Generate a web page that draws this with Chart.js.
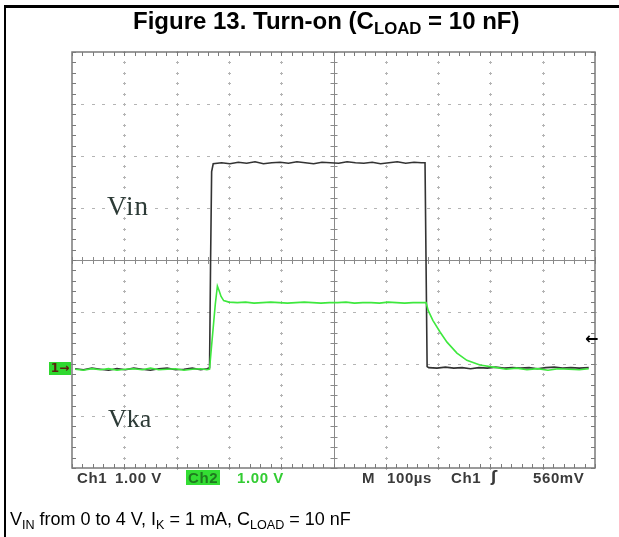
<!DOCTYPE html>
<html><head><meta charset="utf-8">
<script src="https://cdn.jsdelivr.net/npm/chart.js@4/dist/chart.umd.min.js"></script>
<style>
html,body{margin:0;padding:0;background:#fff;}
#wrap{position:relative;width:619px;height:537px;overflow:hidden;font-family:"Liberation Sans",Arial,sans-serif;}
#c{position:absolute;left:0;top:0;}
.t{position:absolute;white-space:nowrap;line-height:1;}
.sub{font-size:0.7em;position:relative;top:0.3em;}
#frameTop{position:absolute;left:4px;top:5px;width:615px;height:3px;background:#000;}
#frameLeft{position:absolute;left:4px;top:5px;width:2px;height:532px;background:#000;}
#title{font-weight:bold;font-size:24px;top:9px;left:133px;color:#000;}
#caption{font-size:18px;top:510px;left:10px;color:#000;}
.lbl{font-family:"Liberation Serif","Times New Roman",serif;color:#2d3b37;}
.st{font-weight:bold;font-size:15px;top:470px;color:#3a3a3a;letter-spacing:0.6px;}
.gr{color:#33cc33;}
#ch2box{background:#33dd33;color:#1f7a1f;padding:0 2px;}
#gnd{background:#2fd82f;color:#5a2010;font-weight:bold;font-size:12px;width:22px;height:13px;line-height:13px;text-align:center;font-family:"DejaVu Sans",sans-serif;}
#trig{font-size:16px;font-weight:bold;color:#000;font-family:"DejaVu Sans",sans-serif;}
</style></head><body>
<div id="wrap">
<canvas id="c" width="619" height="537"></canvas>
<div id="frameTop"></div><div id="frameLeft"></div>
<div class="t" id="title">Figure 13. Turn-on (C<span class="sub">LOAD</span> = 10 nF)</div>
<div class="t lbl" style="left:107px;top:193px;font-size:27px;letter-spacing:1px;">Vin</div>
<div class="t lbl" style="left:108px;top:406px;font-size:26px;">Vka</div>
<div class="t st" style="left:77px;">Ch1</div>
<div class="t st" style="left:115px;">1.00 V</div>
<div class="t st" id="ch2box" style="left:186px;">Ch2</div>
<div class="t st gr" style="left:237px;">1.00 V</div>
<div class="t st" style="left:362px;">M</div>
<div class="t st" style="left:387px;">100µs</div>
<div class="t st" style="left:451px;">Ch1</div>
<div class="t st" style="left:491px;font-family:'DejaVu Sans',sans-serif;">ʃ</div>
<div class="t st" style="left:533px;">560mV</div>
<div class="t" id="gnd" style="left:49px;top:362px;">1→</div>
<div class="t" id="trig" style="left:585px;top:331px;">←</div>
<div class="t" id="caption">V<span class="sub">IN</span> from 0 to 4 V, I<span class="sub">K</span> = 1 mA, C<span class="sub">LOAD</span> = 10 nF</div>
</div>
<script>
// ---- data (time in µs, voltage in V) ----
const timeMin = 0, timeMax = 1000, timeDiv = 100;   // 100 µs/div, 10 divisions
const voltMin = -1.9, voltMax = 6.1, voltDiv = 1;   // 1.00 V/div, 8 divisions
const triggerLevel = 0.56;

const vinTime = [6,22,38,54,70,86,102,118,134,150,166,182,198,214,230,246,258,263,265,267,270,
  286,302,318,334,350,366,382,398,414,430,446,462,478,494,510,526,542,558,574,590,606,622,638,654,668,
  675,677,679,682,698,714,730,746,762,778,794,810,826,842,858,874,890,906,922,938,954,970,988];
const vinVolt = [0.01,-0.01,0.02,0.0,-0.02,0.01,-0.01,0.02,0.0,-0.02,0.01,0.02,-0.01,0.0,0.02,-0.01,0.01,
  0.03,2.1,3.8,3.95,
  3.97,3.95,3.98,3.96,3.99,3.95,3.97,3.98,3.96,3.99,3.97,3.95,3.98,3.97,3.96,3.99,3.97,3.96,3.98,3.95,3.97,3.99,3.96,3.98,3.97,
  3.97,2.0,0.05,
  0.03,0.02,0.04,0.02,0.03,0.01,0.03,0.02,0.04,0.02,0.03,0.02,0.03,0.01,0.03,0.04,0.02,0.03,0.02,0.03];

const vkaTime = [6,22,38,54,70,86,102,118,134,150,166,182,198,214,230,246,258,
  263,266,270,274,278,281,285,290,300,
  316,332,348,364,380,396,412,428,444,460,476,492,508,524,540,556,572,588,604,620,636,652,668,
  677,681,690,704,717,736,755,780,812,
  830,850,870,890,910,930,950,970,988];
const vkaVolt = [0.0,-0.02,0.01,-0.01,0.01,-0.02,0.0,0.01,-0.01,0.02,-0.01,0.0,0.01,-0.02,0.0,0.01,-0.01,
  0.0,0.35,0.8,1.25,1.6,1.52,1.4,1.32,1.29,
  1.28,1.29,1.27,1.28,1.29,1.28,1.27,1.28,1.29,1.28,1.27,1.28,1.28,1.29,1.27,1.28,1.28,1.27,1.29,1.28,1.27,1.28,1.28,
  1.28,1.13,0.94,0.71,0.52,0.31,0.17,0.08,0.03,
  0.0,0.02,-0.01,0.01,-0.02,0.01,0.0,-0.01,0.01];

const toPts = (ts, vs) => ts.map((t, i) => ({x: t, y: vs[i]}));

const scopeGrid = {
  id: 'scopeGrid',
  beforeDatasetsDraw(chart) {
    const {ctx, chartArea: a, scales: {x, y}} = chart;
    const xMinor = timeDiv / 5, yMinor = voltDiv / 5;
    const xMaj = [], yMaj = [], xMin = [], yMin = [];
    for (let v = x.min; v <= x.max + 1e-6; v += timeDiv) xMaj.push(x.getPixelForValue(v));
    for (let v = y.min; v <= y.max + 1e-6; v += voltDiv) yMaj.push(y.getPixelForValue(v));
    for (let v = x.min; v <= x.max + 1e-6; v += xMinor) xMin.push(x.getPixelForValue(v));
    for (let v = y.min; v <= y.max + 1e-6; v += yMinor) yMin.push(y.getPixelForValue(v));
    const cx = x.getPixelForValue((x.min + x.max) / 2), cy = y.getPixelForValue((y.min + y.max) / 2);
    ctx.save();
    ctx.fillStyle = '#b4b4b4';
    xMaj.slice(1, -1).forEach(px => {
      if (Math.abs(px - cx) < 1) return;
      yMin.forEach(py => { ctx.fillRect(Math.round(px) - 1, Math.round(py), 3, 1); ctx.fillRect(Math.round(px), Math.round(py) - 1, 1, 3); });
    });
    yMaj.slice(1, -1).forEach(py => {
      if (Math.abs(py - cy) < 1) return;
      xMin.forEach(px => { ctx.fillRect(Math.round(px) - 1, Math.round(py), 3, 1); });
    });
    ctx.strokeStyle = '#8a8a8a'; ctx.lineWidth = 1;
    ctx.beginPath();
    ctx.moveTo(a.left, Math.round(cy) + 0.5); ctx.lineTo(a.right, Math.round(cy) + 0.5);
    ctx.moveTo(Math.round(cx) + 0.5, a.top); ctx.lineTo(Math.round(cx) + 0.5, a.bottom);
    xMin.forEach(px => { ctx.moveTo(Math.round(px) + 0.5, cy - 3); ctx.lineTo(Math.round(px) + 0.5, cy + 4); });
    yMin.forEach(py => { ctx.moveTo(cx - 3, Math.round(py) + 0.5); ctx.lineTo(cx + 4, Math.round(py) + 0.5); });
    ctx.stroke();
    ctx.strokeStyle = '#7a7a7a'; ctx.lineWidth = 1.5;
    ctx.strokeRect(a.left, a.top, a.right - a.left, a.bottom - a.top);
    ctx.lineWidth = 1;
    ctx.beginPath();
    xMin.forEach(px => {
      ctx.moveTo(Math.round(px) + 0.5, a.top); ctx.lineTo(Math.round(px) + 0.5, a.top + 4);
      ctx.moveTo(Math.round(px) + 0.5, a.bottom); ctx.lineTo(Math.round(px) + 0.5, a.bottom - 4);
    });
    yMin.forEach(py => {
      ctx.moveTo(a.left, Math.round(py) + 0.5); ctx.lineTo(a.left + 4, Math.round(py) + 0.5);
      ctx.moveTo(a.right, Math.round(py) + 0.5); ctx.lineTo(a.right - 4, Math.round(py) + 0.5);
    });
    ctx.stroke();
    ctx.restore();
  },
  afterDraw(chart) {
    const y = chart.scales.y;
    document.getElementById('gnd').style.top = (y.getPixelForValue(0) - 7) + 'px';
    document.getElementById('trig').style.top = (y.getPixelForValue(triggerLevel) - 9) + 'px';
  }
};

new Chart(document.getElementById('c'), {
  type: 'line',
  data: {
    datasets: [
      {label: 'Vin', data: toPts(vinTime, vinVolt), borderColor: '#333333', borderWidth: 1.6, pointRadius: 0, tension: 0, order: 2},
      {label: 'Vka', data: toPts(vkaTime, vkaVolt), borderColor: '#3ee83e', borderWidth: 1.6, pointRadius: 0, tension: 0, order: 1}
    ]
  },
  options: {
    responsive: false,
    animation: false,
    layout: {padding: {left: 72, top: 52, right: 24, bottom: 69}},
    plugins: {legend: {display: false}, tooltip: {enabled: false}},
    scales: {
      x: {type: 'linear', min: timeMin, max: timeMax, display: false},
      y: {type: 'linear', min: voltMin, max: voltMax, display: false}
    }
  },
  plugins: [scopeGrid]
});
</script>
</body></html>
